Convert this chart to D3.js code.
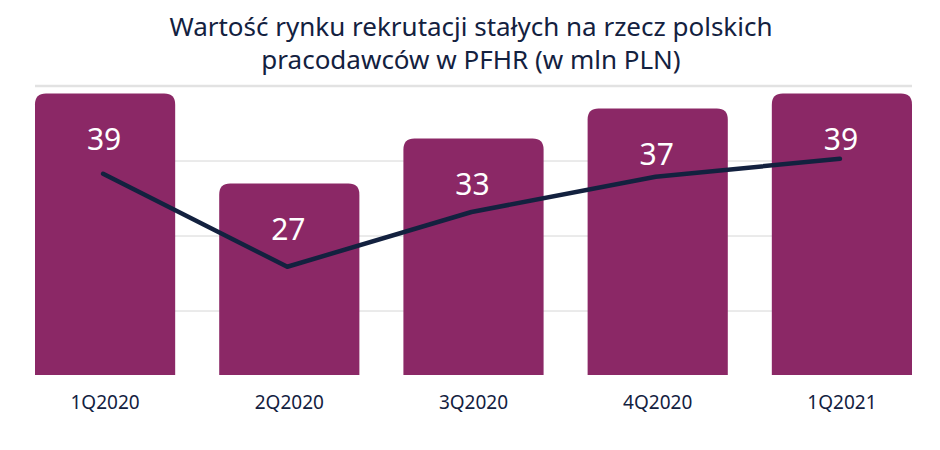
<!DOCTYPE html>
<html><head><meta charset="utf-8">
<script src="https://cdn.jsdelivr.net/npm/d3@7"></script>
<style>body{margin:0;background:#fff}svg{display:block}</style>
</head><body>
<script>
const titleLines = ["Wartość rynku rekrutacji stałych na rzecz polskich", "pracodawców w PFHR (w mln PLN)"];
const categories = ["1Q2020", "2Q2020", "3Q2020", "4Q2020", "1Q2021"];
const barValues = [39, 27, 33, 37, 39];
const lineValues = [28.3, 15.9, 23.2, 27.9, 30.3];
const yTicks = [0, 10, 20, 30, 40];

const W = 940, H = 450;
const svg = d3.select("body").append("svg").attr("width", W).attr("height", H);
const font = "'Noto Sans', 'Open Sans', sans-serif";
const navy = "#13213f", barColor = "#8b2866";

const x = d3.scaleBand().domain(categories).range([35, 912]).paddingInner(0.239).paddingOuter(0);
const y = d3.scaleLinear().domain([0, 40]).range([386, 86]);
const plotBottom = 375;

// title
svg.append("g").selectAll("text").data(titleLines).join("text")
  .attr("x", W / 2 + 1).attr("y", (d, i) => 36 + i * 33)
  .attr("text-anchor", "middle").attr("font-family", font).attr("font-size", 26)
  .attr("fill", navy).text(d => d);

// gridlines
svg.append("g").selectAll("line").data(yTicks.filter(t => y(t) < plotBottom)).join("line")
  .attr("x1", 35).attr("x2", 912).attr("y1", d => y(d)).attr("y2", d => y(d))
  .attr("stroke", d => d === 40 ? "#e2e2e2" : "#d6d6d6")
  .attr("stroke-width", d => d === 40 ? 2.5 : 1);

// bars with rounded top corners
const r = 11;
function barPath(d, i) {
  const x0 = x(categories[i]), w = x.bandwidth(), t = y(d), b = plotBottom;
  return `M${x0},${b}V${t + r}Q${x0},${t} ${x0 + r},${t}H${x0 + w - r}Q${x0 + w},${t} ${x0 + w},${t + r}V${b}Z`;
}
svg.append("g").selectAll("path").data(barValues).join("path")
  .attr("d", barPath).attr("fill", barColor);

// value labels
svg.append("g").selectAll("text").data(barValues).join("text")
  .attr("x", (d, i) => x(categories[i]) + x.bandwidth() / 2 - 1)
  .attr("y", d => y(d) + 56)
  .attr("text-anchor", "middle").attr("font-family", font).attr("font-size", 30)
  .attr("fill", "#fff").text(d => d);

// line
const line = d3.line().x((d, i) => x(categories[i]) + x.bandwidth() / 2 - 2).y(d => y(d));
svg.append("path").datum(lineValues).attr("d", line)
  .attr("fill", "none").attr("stroke", navy).attr("stroke-width", 4.5)
  .attr("stroke-linecap", "round").attr("stroke-linejoin", "round");

// x axis labels
const xAxis = d3.axisBottom(x).tickSize(0).tickPadding(0);
const gx = svg.append("g").attr("transform", `translate(0,${plotBottom + 20})`).call(xAxis);
gx.select(".domain").remove();
gx.selectAll("text").attr("font-family", font).attr("font-size", 19).attr("fill", navy);
</script>
</body></html>
